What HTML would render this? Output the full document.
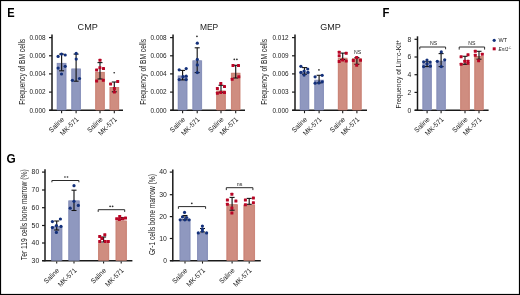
<!DOCTYPE html>
<html><head><meta charset="utf-8"><style>html,body{margin:0;padding:0;background:#fff;width:520px;height:295px;overflow:hidden}</style></head>
<body>
<svg width="520" height="295" viewBox="0 0 520 295" style="display:block;will-change:transform">
<rect x="0" y="0" width="520" height="295" fill="#ffffff"/>
<g font-family='"Liberation Sans", sans-serif'>
<text x="7.2" y="16.9" font-size="12.3" text-anchor="start" textLength="7.4" lengthAdjust="spacingAndGlyphs" font-weight="bold" fill="#000">E</text>
<text x="382.4" y="16.9" font-size="12.3" text-anchor="start" textLength="6.9" lengthAdjust="spacingAndGlyphs" font-weight="bold" fill="#000">F</text>
<text x="6.5" y="163.2" font-size="12.3" text-anchor="start" textLength="9.2" lengthAdjust="spacingAndGlyphs" font-weight="bold" fill="#000">G</text>
<text x="87.7" y="30.3" font-size="9.7" text-anchor="middle" textLength="20.2" lengthAdjust="spacingAndGlyphs" fill="#1a1a1a">CMP</text>
<text x="24.9" y="71.8" font-size="8.4" text-anchor="middle" textLength="66" lengthAdjust="spacingAndGlyphs" transform="rotate(-90 24.9 71.8)" fill="#1a1a1a">Frequency of BM cells</text>
<line x1="52.0" y1="34.6" x2="52.0" y2="110.75" stroke="#1a1a1a" stroke-width="1.5"/>
<line x1="49.2" y1="110.25" x2="123" y2="110.25" stroke="#1a1a1a" stroke-width="1.5"/>
<line x1="49.0" y1="37.6" x2="52.0" y2="37.6" stroke="#1a1a1a" stroke-width="1.2"/>
<text x="45.5" y="39.9" font-size="6.3" text-anchor="end" textLength="16" lengthAdjust="spacingAndGlyphs" fill="#1a1a1a">0.008</text>
<line x1="49.0" y1="55.8" x2="52.0" y2="55.8" stroke="#1a1a1a" stroke-width="1.2"/>
<text x="45.5" y="58.099999999999994" font-size="6.3" text-anchor="end" textLength="16" lengthAdjust="spacingAndGlyphs" fill="#1a1a1a">0.006</text>
<line x1="49.0" y1="73.9" x2="52.0" y2="73.9" stroke="#1a1a1a" stroke-width="1.2"/>
<text x="45.5" y="76.2" font-size="6.3" text-anchor="end" textLength="16" lengthAdjust="spacingAndGlyphs" fill="#1a1a1a">0.004</text>
<line x1="49.0" y1="92.1" x2="52.0" y2="92.1" stroke="#1a1a1a" stroke-width="1.2"/>
<text x="45.5" y="94.39999999999999" font-size="6.3" text-anchor="end" textLength="16" lengthAdjust="spacingAndGlyphs" fill="#1a1a1a">0.002</text>
<line x1="49.0" y1="110.25" x2="52.0" y2="110.25" stroke="#1a1a1a" stroke-width="1.2"/>
<text x="45.5" y="112.55" font-size="6.3" text-anchor="end" textLength="16" lengthAdjust="spacingAndGlyphs" fill="#1a1a1a">0.000</text>
<rect x="56.7" y="62.9" width="9.8" height="47.1" fill="#8f98bf"/>
<rect x="57.6" y="63.3" width="8.0" height="46.7" fill="none" stroke="#858eb8" stroke-width="0.6"/>
<line x1="61.6" y1="111" x2="61.6" y2="113.2" stroke="#1a1a1a" stroke-width="1.1"/>
<line x1="61.6" y1="54.1" x2="61.6" y2="70.8" stroke="#151515" stroke-width="1.15"/>
<line x1="59.1" y1="54.1" x2="64.1" y2="54.1" stroke="#151515" stroke-width="1.1"/>
<line x1="59.1" y1="70.8" x2="64.1" y2="70.8" stroke="#151515" stroke-width="1.1"/>
<circle cx="58.1" cy="56.4" r="1.6" fill="#13307a"/>
<circle cx="61.5" cy="54.1" r="1.6" fill="#13307a"/>
<circle cx="65.2" cy="55" r="1.6" fill="#13307a"/>
<circle cx="58.1" cy="68.1" r="1.6" fill="#13307a"/>
<circle cx="65.2" cy="66.3" r="1.6" fill="#13307a"/>
<circle cx="61.5" cy="74" r="1.6" fill="#13307a"/>
<rect x="71.19999999999999" y="68.6" width="9.8" height="41.400000000000006" fill="#8f98bf"/>
<rect x="72.1" y="69.0" width="8.0" height="41.00000000000001" fill="none" stroke="#858eb8" stroke-width="0.6"/>
<line x1="76.1" y1="111" x2="76.1" y2="113.2" stroke="#1a1a1a" stroke-width="1.1"/>
<line x1="76.1" y1="54.1" x2="76.1" y2="81.2" stroke="#151515" stroke-width="1.15"/>
<line x1="73.6" y1="54.1" x2="78.6" y2="54.1" stroke="#151515" stroke-width="1.1"/>
<line x1="73.6" y1="81.2" x2="78.6" y2="81.2" stroke="#151515" stroke-width="1.1"/>
<circle cx="76.2" cy="53.4" r="1.6" fill="#13307a"/>
<circle cx="76.2" cy="59.1" r="1.6" fill="#13307a"/>
<circle cx="72.4" cy="80.3" r="1.6" fill="#13307a"/>
<circle cx="79.5" cy="78.5" r="1.6" fill="#13307a"/>
<rect x="95.1" y="71.9" width="9.8" height="38.099999999999994" fill="#cf8d80"/>
<rect x="96.0" y="72.30000000000001" width="8.0" height="37.699999999999996" fill="none" stroke="#c98073" stroke-width="0.6"/>
<line x1="100.0" y1="111" x2="100.0" y2="113.2" stroke="#1a1a1a" stroke-width="1.1"/>
<line x1="100.0" y1="62.6" x2="100.0" y2="79.0" stroke="#151515" stroke-width="1.15"/>
<line x1="97.5" y1="62.6" x2="102.5" y2="62.6" stroke="#151515" stroke-width="1.1"/>
<line x1="97.5" y1="79.0" x2="102.5" y2="79.0" stroke="#151515" stroke-width="1.1"/>
<rect x="98.5" y="58.8" width="3.0" height="3.0" rx="0.5" fill="#b80525"/>
<rect x="95.1" y="68.5" width="3.0" height="3.0" rx="0.5" fill="#b80525"/>
<rect x="98.4" y="66.2" width="3.0" height="3.0" rx="0.5" fill="#b80525"/>
<rect x="102.0" y="67.0" width="3.0" height="3.0" rx="0.5" fill="#b80525"/>
<rect x="95.1" y="79.6" width="3.0" height="3.0" rx="0.5" fill="#b80525"/>
<rect x="101.8" y="78.7" width="3.0" height="3.0" rx="0.5" fill="#b80525"/>
<rect x="109.39999999999999" y="87.0" width="9.8" height="23.0" fill="#cf8d80"/>
<rect x="110.3" y="87.4" width="8.0" height="22.6" fill="none" stroke="#c98073" stroke-width="0.6"/>
<line x1="114.3" y1="111" x2="114.3" y2="113.2" stroke="#1a1a1a" stroke-width="1.1"/>
<line x1="114.3" y1="82.0" x2="114.3" y2="91.8" stroke="#151515" stroke-width="1.15"/>
<line x1="111.8" y1="82.0" x2="116.8" y2="82.0" stroke="#151515" stroke-width="1.1"/>
<line x1="111.8" y1="91.8" x2="116.8" y2="91.8" stroke="#151515" stroke-width="1.1"/>
<rect x="109.1" y="82.6" width="3.0" height="3.0" rx="0.5" fill="#b80525"/>
<rect x="116.2" y="79.9" width="3.0" height="3.0" rx="0.5" fill="#b80525"/>
<rect x="112.9" y="87.0" width="3.0" height="3.0" rx="0.5" fill="#b80525"/>
<rect x="112.9" y="90.5" width="3.0" height="3.0" rx="0.5" fill="#b80525"/>
<ellipse cx="114.2" cy="72.8" rx="0.9" ry="0.8" fill="#303030"/>
<text x="64.6" y="119.8" font-size="7.0" text-anchor="end" textLength="18.5" lengthAdjust="spacingAndGlyphs" transform="rotate(-45 64.6 119.8)" fill="#1a1a1a">Saline</text>
<text x="79.1" y="119.8" font-size="7.0" text-anchor="end" textLength="23" lengthAdjust="spacingAndGlyphs" transform="rotate(-45 79.1 119.8)" fill="#1a1a1a">MK-571</text>
<text x="103.0" y="119.8" font-size="7.0" text-anchor="end" textLength="18.5" lengthAdjust="spacingAndGlyphs" transform="rotate(-45 103.0 119.8)" fill="#1a1a1a">Saline</text>
<text x="117.3" y="119.8" font-size="7.0" text-anchor="end" textLength="23" lengthAdjust="spacingAndGlyphs" transform="rotate(-45 117.3 119.8)" fill="#1a1a1a">MK-571</text>
<text x="209.05" y="30.3" font-size="9.7" text-anchor="middle" textLength="18.3" lengthAdjust="spacingAndGlyphs" fill="#1a1a1a">MEP</text>
<text x="146.4" y="71.8" font-size="8.4" text-anchor="middle" textLength="66" lengthAdjust="spacingAndGlyphs" transform="rotate(-90 146.4 71.8)" fill="#1a1a1a">Frequency of BM cells</text>
<line x1="173.05" y1="34.6" x2="173.05" y2="110.75" stroke="#1a1a1a" stroke-width="1.5"/>
<line x1="170.25" y1="110.25" x2="245" y2="110.25" stroke="#1a1a1a" stroke-width="1.5"/>
<line x1="170.05" y1="37.6" x2="173.05" y2="37.6" stroke="#1a1a1a" stroke-width="1.2"/>
<text x="166.55" y="39.9" font-size="6.3" text-anchor="end" textLength="16" lengthAdjust="spacingAndGlyphs" fill="#1a1a1a">0.008</text>
<line x1="170.05" y1="55.8" x2="173.05" y2="55.8" stroke="#1a1a1a" stroke-width="1.2"/>
<text x="166.55" y="58.099999999999994" font-size="6.3" text-anchor="end" textLength="16" lengthAdjust="spacingAndGlyphs" fill="#1a1a1a">0.006</text>
<line x1="170.05" y1="73.9" x2="173.05" y2="73.9" stroke="#1a1a1a" stroke-width="1.2"/>
<text x="166.55" y="76.2" font-size="6.3" text-anchor="end" textLength="16" lengthAdjust="spacingAndGlyphs" fill="#1a1a1a">0.004</text>
<line x1="170.05" y1="92.1" x2="173.05" y2="92.1" stroke="#1a1a1a" stroke-width="1.2"/>
<text x="166.55" y="94.39999999999999" font-size="6.3" text-anchor="end" textLength="16" lengthAdjust="spacingAndGlyphs" fill="#1a1a1a">0.002</text>
<line x1="170.05" y1="110.25" x2="173.05" y2="110.25" stroke="#1a1a1a" stroke-width="1.2"/>
<text x="166.55" y="112.55" font-size="6.3" text-anchor="end" textLength="16" lengthAdjust="spacingAndGlyphs" fill="#1a1a1a">0.000</text>
<rect x="177.7" y="75.6" width="9.8" height="34.400000000000006" fill="#8f98bf"/>
<rect x="178.6" y="76.0" width="8.0" height="34.00000000000001" fill="none" stroke="#858eb8" stroke-width="0.6"/>
<line x1="182.6" y1="111" x2="182.6" y2="113.2" stroke="#1a1a1a" stroke-width="1.1"/>
<line x1="182.6" y1="70.4" x2="182.6" y2="79.9" stroke="#151515" stroke-width="1.15"/>
<line x1="180.1" y1="70.4" x2="185.1" y2="70.4" stroke="#151515" stroke-width="1.1"/>
<line x1="180.1" y1="79.9" x2="185.1" y2="79.9" stroke="#151515" stroke-width="1.1"/>
<circle cx="179.2" cy="69.8" r="1.6" fill="#13307a"/>
<circle cx="186.2" cy="68.6" r="1.6" fill="#13307a"/>
<circle cx="183" cy="76.7" r="1.6" fill="#13307a"/>
<circle cx="186.2" cy="76.2" r="1.6" fill="#13307a"/>
<circle cx="179.2" cy="79.6" r="1.6" fill="#13307a"/>
<circle cx="186.2" cy="79.6" r="1.6" fill="#13307a"/>
<rect x="192.29999999999998" y="60.4" width="9.8" height="49.6" fill="#8f98bf"/>
<rect x="193.2" y="60.8" width="8.0" height="49.2" fill="none" stroke="#858eb8" stroke-width="0.6"/>
<line x1="197.2" y1="111" x2="197.2" y2="113.2" stroke="#1a1a1a" stroke-width="1.1"/>
<line x1="197.2" y1="47.8" x2="197.2" y2="72.6" stroke="#151515" stroke-width="1.15"/>
<line x1="194.7" y1="47.8" x2="199.7" y2="47.8" stroke="#151515" stroke-width="1.1"/>
<line x1="194.7" y1="72.6" x2="199.7" y2="72.6" stroke="#151515" stroke-width="1.1"/>
<circle cx="197.3" cy="43.2" r="1.6" fill="#13307a"/>
<circle cx="197.3" cy="59.4" r="1.6" fill="#13307a"/>
<circle cx="197.3" cy="64.9" r="1.6" fill="#13307a"/>
<circle cx="197.3" cy="72.6" r="1.6" fill="#13307a"/>
<rect x="216.1" y="90.6" width="9.8" height="19.400000000000006" fill="#cf8d80"/>
<rect x="217.0" y="91.0" width="8.0" height="19.000000000000007" fill="none" stroke="#c98073" stroke-width="0.6"/>
<line x1="221.0" y1="111" x2="221.0" y2="113.2" stroke="#1a1a1a" stroke-width="1.1"/>
<line x1="221.0" y1="85.3" x2="221.0" y2="92.3" stroke="#151515" stroke-width="1.15"/>
<line x1="218.5" y1="85.3" x2="223.5" y2="85.3" stroke="#151515" stroke-width="1.1"/>
<line x1="218.5" y1="92.3" x2="223.5" y2="92.3" stroke="#151515" stroke-width="1.1"/>
<rect x="219.3" y="81.9" width="3.0" height="3.0" rx="0.5" fill="#b80525"/>
<rect x="223.0" y="85.0" width="3.0" height="3.0" rx="0.5" fill="#b80525"/>
<rect x="215.9" y="87.0" width="3.0" height="3.0" rx="0.5" fill="#b80525"/>
<rect x="215.9" y="91.8" width="3.0" height="3.0" rx="0.5" fill="#b80525"/>
<rect x="219.3" y="91.1" width="3.0" height="3.0" rx="0.5" fill="#b80525"/>
<rect x="223.0" y="91.1" width="3.0" height="3.0" rx="0.5" fill="#b80525"/>
<rect x="230.89999999999998" y="72.8" width="9.6" height="37.2" fill="#cf8d80"/>
<rect x="231.79999999999998" y="73.2" width="7.8" height="36.800000000000004" fill="none" stroke="#c98073" stroke-width="0.6"/>
<line x1="235.7" y1="111" x2="235.7" y2="113.2" stroke="#1a1a1a" stroke-width="1.1"/>
<line x1="235.7" y1="65.3" x2="235.7" y2="78.0" stroke="#151515" stroke-width="1.15"/>
<line x1="233.2" y1="65.3" x2="238.2" y2="65.3" stroke="#151515" stroke-width="1.1"/>
<line x1="233.2" y1="78.0" x2="238.2" y2="78.0" stroke="#151515" stroke-width="1.1"/>
<rect x="231.5" y="64.0" width="3.0" height="3.0" rx="0.5" fill="#b80525"/>
<rect x="237.0" y="64.0" width="3.0" height="3.0" rx="0.5" fill="#b80525"/>
<rect x="230.7" y="77.7" width="3.0" height="3.0" rx="0.5" fill="#b80525"/>
<rect x="237.3" y="75.2" width="3.0" height="3.0" rx="0.5" fill="#b80525"/>
<ellipse cx="196.95" cy="36.4" rx="0.9" ry="0.8" fill="#303030"/>
<ellipse cx="234.3" cy="59.4" rx="0.9" ry="0.8" fill="#303030"/>
<ellipse cx="236.9" cy="59.4" rx="0.9" ry="0.8" fill="#303030"/>
<text x="185.6" y="119.8" font-size="7.0" text-anchor="end" textLength="18.5" lengthAdjust="spacingAndGlyphs" transform="rotate(-45 185.6 119.8)" fill="#1a1a1a">Saline</text>
<text x="200.2" y="119.8" font-size="7.0" text-anchor="end" textLength="23" lengthAdjust="spacingAndGlyphs" transform="rotate(-45 200.2 119.8)" fill="#1a1a1a">MK-571</text>
<text x="224.0" y="119.8" font-size="7.0" text-anchor="end" textLength="18.5" lengthAdjust="spacingAndGlyphs" transform="rotate(-45 224.0 119.8)" fill="#1a1a1a">Saline</text>
<text x="238.7" y="119.8" font-size="7.0" text-anchor="end" textLength="23" lengthAdjust="spacingAndGlyphs" transform="rotate(-45 238.7 119.8)" fill="#1a1a1a">MK-571</text>
<text x="330.6" y="30.3" font-size="9.7" text-anchor="middle" textLength="20.6" lengthAdjust="spacingAndGlyphs" fill="#1a1a1a">GMP</text>
<text x="267.2" y="71.8" font-size="8.4" text-anchor="middle" textLength="66" lengthAdjust="spacingAndGlyphs" transform="rotate(-90 267.2 71.8)" fill="#1a1a1a">Frequency of BM cells</text>
<line x1="295.0" y1="34.6" x2="295.0" y2="110.75" stroke="#1a1a1a" stroke-width="1.5"/>
<line x1="292.2" y1="110.25" x2="367" y2="110.25" stroke="#1a1a1a" stroke-width="1.5"/>
<line x1="292.0" y1="37.6" x2="295.0" y2="37.6" stroke="#1a1a1a" stroke-width="1.2"/>
<text x="288.5" y="39.9" font-size="6.3" text-anchor="end" textLength="16" lengthAdjust="spacingAndGlyphs" fill="#1a1a1a">0.012</text>
<line x1="292.0" y1="55.8" x2="295.0" y2="55.8" stroke="#1a1a1a" stroke-width="1.2"/>
<text x="288.5" y="58.099999999999994" font-size="6.3" text-anchor="end" textLength="16" lengthAdjust="spacingAndGlyphs" fill="#1a1a1a">0.009</text>
<line x1="292.0" y1="73.9" x2="295.0" y2="73.9" stroke="#1a1a1a" stroke-width="1.2"/>
<text x="288.5" y="76.2" font-size="6.3" text-anchor="end" textLength="16" lengthAdjust="spacingAndGlyphs" fill="#1a1a1a">0.006</text>
<line x1="292.0" y1="92.1" x2="295.0" y2="92.1" stroke="#1a1a1a" stroke-width="1.2"/>
<text x="288.5" y="94.39999999999999" font-size="6.3" text-anchor="end" textLength="16" lengthAdjust="spacingAndGlyphs" fill="#1a1a1a">0.003</text>
<line x1="292.0" y1="110.25" x2="295.0" y2="110.25" stroke="#1a1a1a" stroke-width="1.2"/>
<text x="288.5" y="112.55" font-size="6.3" text-anchor="end" textLength="16" lengthAdjust="spacingAndGlyphs" fill="#1a1a1a">0.000</text>
<rect x="299.7" y="71.7" width="9.6" height="38.3" fill="#8f98bf"/>
<rect x="300.59999999999997" y="72.10000000000001" width="7.8" height="37.9" fill="none" stroke="#858eb8" stroke-width="0.6"/>
<line x1="304.5" y1="111" x2="304.5" y2="113.2" stroke="#1a1a1a" stroke-width="1.1"/>
<line x1="304.5" y1="67.6" x2="304.5" y2="74.2" stroke="#151515" stroke-width="1.15"/>
<line x1="302.0" y1="67.6" x2="307.0" y2="67.6" stroke="#151515" stroke-width="1.1"/>
<line x1="302.0" y1="74.2" x2="307.0" y2="74.2" stroke="#151515" stroke-width="1.1"/>
<circle cx="300.9" cy="66.3" r="1.6" fill="#13307a"/>
<circle cx="307.7" cy="69" r="1.6" fill="#13307a"/>
<circle cx="304.1" cy="71" r="1.6" fill="#13307a"/>
<circle cx="300.9" cy="72.4" r="1.6" fill="#13307a"/>
<circle cx="308" cy="72.4" r="1.6" fill="#13307a"/>
<circle cx="304.1" cy="75.1" r="1.6" fill="#13307a"/>
<rect x="314.20000000000005" y="79.8" width="9.8" height="30.200000000000003" fill="#8f98bf"/>
<rect x="315.1" y="80.2" width="8.0" height="29.800000000000004" fill="none" stroke="#858eb8" stroke-width="0.6"/>
<line x1="319.1" y1="111" x2="319.1" y2="113.2" stroke="#1a1a1a" stroke-width="1.1"/>
<line x1="319.1" y1="75.3" x2="319.1" y2="82.9" stroke="#151515" stroke-width="1.15"/>
<line x1="316.6" y1="75.3" x2="321.6" y2="75.3" stroke="#151515" stroke-width="1.1"/>
<line x1="316.6" y1="82.9" x2="321.6" y2="82.9" stroke="#151515" stroke-width="1.1"/>
<circle cx="315.1" cy="76.8" r="1.6" fill="#13307a"/>
<circle cx="322.2" cy="75.3" r="1.6" fill="#13307a"/>
<circle cx="315.1" cy="83.2" r="1.6" fill="#13307a"/>
<circle cx="322.2" cy="81.8" r="1.6" fill="#13307a"/>
<circle cx="318.9" cy="82.9" r="1.6" fill="#13307a"/>
<rect x="337.8" y="57.8" width="9.8" height="52.2" fill="#cf8d80"/>
<rect x="338.7" y="58.199999999999996" width="8.0" height="51.800000000000004" fill="none" stroke="#c98073" stroke-width="0.6"/>
<line x1="342.7" y1="111" x2="342.7" y2="113.2" stroke="#1a1a1a" stroke-width="1.1"/>
<line x1="342.7" y1="53.1" x2="342.7" y2="59.5" stroke="#151515" stroke-width="1.15"/>
<line x1="340.2" y1="53.1" x2="345.2" y2="53.1" stroke="#151515" stroke-width="1.1"/>
<line x1="340.2" y1="59.5" x2="345.2" y2="59.5" stroke="#151515" stroke-width="1.1"/>
<rect x="337.7" y="50.7" width="3.0" height="3.0" rx="0.5" fill="#b80525"/>
<rect x="337.7" y="54.3" width="3.0" height="3.0" rx="0.5" fill="#b80525"/>
<rect x="344.7" y="51.8" width="3.0" height="3.0" rx="0.5" fill="#b80525"/>
<rect x="337.7" y="60.1" width="3.0" height="3.0" rx="0.5" fill="#b80525"/>
<rect x="341.1" y="58.4" width="3.0" height="3.0" rx="0.5" fill="#b80525"/>
<rect x="344.7" y="59.5" width="3.0" height="3.0" rx="0.5" fill="#b80525"/>
<rect x="352.0" y="58.2" width="9.8" height="51.8" fill="#cf8d80"/>
<rect x="352.9" y="58.6" width="8.0" height="51.4" fill="none" stroke="#c98073" stroke-width="0.6"/>
<line x1="356.9" y1="111" x2="356.9" y2="113.2" stroke="#1a1a1a" stroke-width="1.1"/>
<line x1="356.9" y1="57.6" x2="356.9" y2="64.3" stroke="#151515" stroke-width="1.15"/>
<line x1="354.4" y1="57.6" x2="359.4" y2="57.6" stroke="#151515" stroke-width="1.1"/>
<line x1="354.4" y1="64.3" x2="359.4" y2="64.3" stroke="#151515" stroke-width="1.1"/>
<rect x="355.2" y="56.1" width="3.0" height="3.0" rx="0.5" fill="#b80525"/>
<rect x="351.8" y="59.1" width="3.0" height="3.0" rx="0.5" fill="#b80525"/>
<rect x="359.0" y="58.7" width="3.0" height="3.0" rx="0.5" fill="#b80525"/>
<rect x="355.2" y="63.8" width="3.0" height="3.0" rx="0.5" fill="#b80525"/>
<ellipse cx="318.95" cy="69.9" rx="0.9" ry="0.8" fill="#303030"/>
<text x="357.55" y="53.7" font-size="5.2" text-anchor="middle" textLength="7.2" lengthAdjust="spacingAndGlyphs" fill="#1a1a1a">NS</text>
<text x="307.5" y="119.8" font-size="7.0" text-anchor="end" textLength="18.5" lengthAdjust="spacingAndGlyphs" transform="rotate(-45 307.5 119.8)" fill="#1a1a1a">Saline</text>
<text x="322.1" y="119.8" font-size="7.0" text-anchor="end" textLength="23" lengthAdjust="spacingAndGlyphs" transform="rotate(-45 322.1 119.8)" fill="#1a1a1a">MK-571</text>
<text x="345.7" y="119.8" font-size="7.0" text-anchor="end" textLength="18.5" lengthAdjust="spacingAndGlyphs" transform="rotate(-45 345.7 119.8)" fill="#1a1a1a">Saline</text>
<text x="359.9" y="119.8" font-size="7.0" text-anchor="end" textLength="23" lengthAdjust="spacingAndGlyphs" transform="rotate(-45 359.9 119.8)" fill="#1a1a1a">MK-571</text>
<text x="401.5" y="74.2" font-size="7.8" text-anchor="middle" textLength="68.5" lengthAdjust="spacingAndGlyphs" transform="rotate(-90 401.5 74.2)" fill="#1a1a1a">Frequency of Lin<tspan dy="-2.6" font-size="5">−</tspan><tspan dy="2.6">c-Kit</tspan><tspan dy="-2.6" font-size="5">+</tspan></text>
<line x1="417.5" y1="36.3" x2="417.5" y2="110.75" stroke="#1a1a1a" stroke-width="1.5"/>
<line x1="414.7" y1="110.25" x2="488.6" y2="110.25" stroke="#1a1a1a" stroke-width="1.5"/>
<line x1="414.5" y1="39.3" x2="417.5" y2="39.3" stroke="#1a1a1a" stroke-width="1.2"/>
<text x="411.2" y="41.599999999999994" font-size="6.8" text-anchor="end" fill="#1a1a1a">8</text>
<line x1="414.5" y1="57.0" x2="417.5" y2="57.0" stroke="#1a1a1a" stroke-width="1.2"/>
<text x="411.2" y="59.3" font-size="6.8" text-anchor="end" fill="#1a1a1a">6</text>
<line x1="414.5" y1="74.7" x2="417.5" y2="74.7" stroke="#1a1a1a" stroke-width="1.2"/>
<text x="411.2" y="77.0" font-size="6.8" text-anchor="end" fill="#1a1a1a">4</text>
<line x1="414.5" y1="92.4" x2="417.5" y2="92.4" stroke="#1a1a1a" stroke-width="1.2"/>
<text x="411.2" y="94.7" font-size="6.8" text-anchor="end" fill="#1a1a1a">2</text>
<line x1="414.5" y1="110.25" x2="417.5" y2="110.25" stroke="#1a1a1a" stroke-width="1.2"/>
<text x="411.2" y="112.55" font-size="6.8" text-anchor="end" fill="#1a1a1a">0</text>
<rect x="422.3" y="63.3" width="9.6" height="46.7" fill="#8f98bf"/>
<rect x="423.2" y="63.699999999999996" width="7.8" height="46.300000000000004" fill="none" stroke="#858eb8" stroke-width="0.6"/>
<line x1="427.1" y1="111" x2="427.1" y2="113.2" stroke="#1a1a1a" stroke-width="1.1"/>
<line x1="427.1" y1="61.8" x2="427.1" y2="66.6" stroke="#151515" stroke-width="1.15"/>
<line x1="424.6" y1="61.8" x2="429.6" y2="61.8" stroke="#151515" stroke-width="1.1"/>
<line x1="424.6" y1="66.6" x2="429.6" y2="66.6" stroke="#151515" stroke-width="1.1"/>
<circle cx="427" cy="60.1" r="1.6" fill="#13307a"/>
<circle cx="423.6" cy="61.8" r="1.6" fill="#13307a"/>
<circle cx="430.2" cy="62.1" r="1.6" fill="#13307a"/>
<circle cx="427" cy="63.8" r="1.6" fill="#13307a"/>
<circle cx="423.6" cy="66.6" r="1.6" fill="#13307a"/>
<circle cx="430.4" cy="66.2" r="1.6" fill="#13307a"/>
<rect x="436.3" y="60.8" width="9.6" height="49.2" fill="#8f98bf"/>
<rect x="437.2" y="61.199999999999996" width="7.8" height="48.800000000000004" fill="none" stroke="#858eb8" stroke-width="0.6"/>
<line x1="441.1" y1="111" x2="441.1" y2="113.2" stroke="#1a1a1a" stroke-width="1.1"/>
<line x1="441.1" y1="53.6" x2="441.1" y2="66.6" stroke="#151515" stroke-width="1.15"/>
<line x1="438.6" y1="53.6" x2="443.6" y2="53.6" stroke="#151515" stroke-width="1.1"/>
<line x1="438.6" y1="66.6" x2="443.6" y2="66.6" stroke="#151515" stroke-width="1.1"/>
<circle cx="441.3" cy="51.9" r="1.6" fill="#13307a"/>
<circle cx="437.3" cy="61.3" r="1.6" fill="#13307a"/>
<circle cx="444.7" cy="59.8" r="1.6" fill="#13307a"/>
<circle cx="441.3" cy="66.6" r="1.6" fill="#13307a"/>
<rect x="460.1" y="63.5" width="9.8" height="46.5" fill="#cf8d80"/>
<rect x="461.0" y="63.9" width="8.0" height="46.1" fill="none" stroke="#c98073" stroke-width="0.6"/>
<line x1="465.0" y1="111" x2="465.0" y2="113.2" stroke="#1a1a1a" stroke-width="1.1"/>
<line x1="465.0" y1="56.3" x2="465.0" y2="64.3" stroke="#151515" stroke-width="1.15"/>
<line x1="462.5" y1="56.3" x2="467.5" y2="56.3" stroke="#151515" stroke-width="1.1"/>
<line x1="462.5" y1="64.3" x2="467.5" y2="64.3" stroke="#151515" stroke-width="1.1"/>
<rect x="459.6" y="55.2" width="3.0" height="3.0" rx="0.5" fill="#b80525"/>
<rect x="466.5" y="53.2" width="3.0" height="3.0" rx="0.5" fill="#b80525"/>
<rect x="463.2" y="59.8" width="3.0" height="3.0" rx="0.5" fill="#b80525"/>
<rect x="459.6" y="62.8" width="3.0" height="3.0" rx="0.5" fill="#b80525"/>
<rect x="466.5" y="59.8" width="3.0" height="3.0" rx="0.5" fill="#b80525"/>
<rect x="466.5" y="61.8" width="3.0" height="3.0" rx="0.5" fill="#b80525"/>
<rect x="474.2" y="56.0" width="9.6" height="54.0" fill="#cf8d80"/>
<rect x="475.09999999999997" y="56.4" width="7.8" height="53.6" fill="none" stroke="#c98073" stroke-width="0.6"/>
<line x1="479.0" y1="111" x2="479.0" y2="113.2" stroke="#1a1a1a" stroke-width="1.1"/>
<line x1="479.0" y1="51.3" x2="479.0" y2="59.2" stroke="#151515" stroke-width="1.15"/>
<line x1="476.5" y1="51.3" x2="481.5" y2="51.3" stroke="#151515" stroke-width="1.1"/>
<line x1="476.5" y1="59.2" x2="481.5" y2="59.2" stroke="#151515" stroke-width="1.1"/>
<rect x="473.8" y="49.8" width="3.0" height="3.0" rx="0.5" fill="#b80525"/>
<rect x="473.8" y="53.7" width="3.0" height="3.0" rx="0.5" fill="#b80525"/>
<rect x="480.8" y="52.7" width="3.0" height="3.0" rx="0.5" fill="#b80525"/>
<rect x="477.1" y="59.3" width="3.0" height="3.0" rx="0.5" fill="#b80525"/>
<polyline points="419.8,49.3 419.8,47.0 445.6,47.0 445.6,49.3" fill="none" stroke="#2a2a2a" stroke-width="1"/>
<text x="433.65" y="44.8" font-size="5.2" text-anchor="middle" textLength="7.2" lengthAdjust="spacingAndGlyphs" fill="#1a1a1a">NS</text>
<polyline points="459.2,49.6 459.2,47.0 484.6,47.0 484.6,49.6" fill="none" stroke="#2a2a2a" stroke-width="1"/>
<text x="471.75" y="44.8" font-size="5.2" text-anchor="middle" textLength="7.2" lengthAdjust="spacingAndGlyphs" fill="#1a1a1a">NS</text>
<circle cx="494.2" cy="40.3" r="1.6" fill="#13307a"/>
<rect x="492.7" y="47.3" width="3" height="3" fill="#b80525"/>
<text x="498.5" y="42.1" font-size="5.8" text-anchor="start" textLength="8.6" lengthAdjust="spacingAndGlyphs" fill="#1a1a1a">WT</text>
<text x="498.6" y="51.0" font-size="5.6" text-anchor="start" textLength="12.5" lengthAdjust="spacingAndGlyphs" font-style="italic" fill="#1a1a1a">Ent1<tspan dy="-2.5" font-size="3.4">-/-</tspan></text>
<text x="430.1" y="119.8" font-size="7.0" text-anchor="end" textLength="18.5" lengthAdjust="spacingAndGlyphs" transform="rotate(-45 430.1 119.8)" fill="#1a1a1a">Saline</text>
<text x="444.1" y="119.8" font-size="7.0" text-anchor="end" textLength="23" lengthAdjust="spacingAndGlyphs" transform="rotate(-45 444.1 119.8)" fill="#1a1a1a">MK-571</text>
<text x="468.0" y="119.8" font-size="7.0" text-anchor="end" textLength="18.5" lengthAdjust="spacingAndGlyphs" transform="rotate(-45 468.0 119.8)" fill="#1a1a1a">Saline</text>
<text x="482.0" y="119.8" font-size="7.0" text-anchor="end" textLength="23" lengthAdjust="spacingAndGlyphs" transform="rotate(-45 482.0 119.8)" fill="#1a1a1a">MK-571</text>
<text x="26.6" y="214.7" font-size="8.6" text-anchor="middle" textLength="91" lengthAdjust="spacingAndGlyphs" transform="rotate(-90 26.6 214.7)" fill="#1a1a1a">Ter 119 cells bone marrow (%)</text>
<line x1="45.0" y1="169.2" x2="45.0" y2="261.15" stroke="#1a1a1a" stroke-width="1.5"/>
<line x1="42.2" y1="260.65" x2="132.4" y2="260.65" stroke="#1a1a1a" stroke-width="1.5"/>
<line x1="42.0" y1="172.1" x2="45.0" y2="172.1" stroke="#1a1a1a" stroke-width="1.2"/>
<text x="39.2" y="174.4" font-size="6.6" text-anchor="end" textLength="7.6" lengthAdjust="spacingAndGlyphs" fill="#1a1a1a">80</text>
<line x1="42.0" y1="190.0" x2="45.0" y2="190.0" stroke="#1a1a1a" stroke-width="1.2"/>
<text x="39.2" y="192.3" font-size="6.6" text-anchor="end" textLength="7.6" lengthAdjust="spacingAndGlyphs" fill="#1a1a1a">70</text>
<line x1="42.0" y1="207.7" x2="45.0" y2="207.7" stroke="#1a1a1a" stroke-width="1.2"/>
<text x="39.2" y="210.0" font-size="6.6" text-anchor="end" textLength="7.6" lengthAdjust="spacingAndGlyphs" fill="#1a1a1a">60</text>
<line x1="42.0" y1="225.5" x2="45.0" y2="225.5" stroke="#1a1a1a" stroke-width="1.2"/>
<text x="39.2" y="227.8" font-size="6.6" text-anchor="end" textLength="7.6" lengthAdjust="spacingAndGlyphs" fill="#1a1a1a">50</text>
<line x1="42.0" y1="243.0" x2="45.0" y2="243.0" stroke="#1a1a1a" stroke-width="1.2"/>
<text x="39.2" y="245.3" font-size="6.6" text-anchor="end" textLength="7.6" lengthAdjust="spacingAndGlyphs" fill="#1a1a1a">40</text>
<line x1="42.0" y1="260.6" x2="45.0" y2="260.6" stroke="#1a1a1a" stroke-width="1.2"/>
<text x="39.2" y="262.90000000000003" font-size="6.6" text-anchor="end" textLength="7.6" lengthAdjust="spacingAndGlyphs" fill="#1a1a1a">30</text>
<rect x="51.0" y="226.0" width="11.4" height="34.39999999999998" fill="#8f98bf"/>
<rect x="51.9" y="226.4" width="9.6" height="33.99999999999998" fill="none" stroke="#858eb8" stroke-width="0.6"/>
<line x1="56.7" y1="261.4" x2="56.7" y2="263.59999999999997" stroke="#1a1a1a" stroke-width="1.1"/>
<line x1="56.7" y1="221.0" x2="56.7" y2="230.0" stroke="#151515" stroke-width="1.15"/>
<line x1="54.2" y1="221.0" x2="59.2" y2="221.0" stroke="#151515" stroke-width="1.1"/>
<line x1="54.2" y1="230.0" x2="59.2" y2="230.0" stroke="#151515" stroke-width="1.1"/>
<circle cx="52.4" cy="221.6" r="1.6" fill="#13307a"/>
<circle cx="60.4" cy="219" r="1.6" fill="#13307a"/>
<circle cx="52.4" cy="227.6" r="1.6" fill="#13307a"/>
<circle cx="56.4" cy="225.6" r="1.6" fill="#13307a"/>
<circle cx="61" cy="226.4" r="1.6" fill="#13307a"/>
<circle cx="56.4" cy="232.4" r="1.6" fill="#13307a"/>
<rect x="68.2" y="200.5" width="11.6" height="59.89999999999998" fill="#8f98bf"/>
<rect x="69.10000000000001" y="200.9" width="9.799999999999999" height="59.49999999999998" fill="none" stroke="#858eb8" stroke-width="0.6"/>
<line x1="74.0" y1="261.4" x2="74.0" y2="263.59999999999997" stroke="#1a1a1a" stroke-width="1.1"/>
<line x1="74.0" y1="190.2" x2="74.0" y2="210.5" stroke="#151515" stroke-width="1.15"/>
<line x1="71.5" y1="190.2" x2="76.5" y2="190.2" stroke="#151515" stroke-width="1.1"/>
<line x1="71.5" y1="210.5" x2="76.5" y2="210.5" stroke="#151515" stroke-width="1.1"/>
<circle cx="74" cy="185.7" r="1.6" fill="#13307a"/>
<circle cx="74" cy="201.3" r="1.6" fill="#13307a"/>
<circle cx="78.3" cy="205.4" r="1.6" fill="#13307a"/>
<circle cx="70.2" cy="208.2" r="1.6" fill="#13307a"/>
<rect x="98.0" y="243.2" width="11.2" height="17.19999999999999" fill="#cf8d80"/>
<rect x="98.9" y="243.6" width="9.399999999999999" height="16.79999999999999" fill="none" stroke="#c98073" stroke-width="0.6"/>
<line x1="103.6" y1="261.4" x2="103.6" y2="263.59999999999997" stroke="#1a1a1a" stroke-width="1.1"/>
<line x1="103.6" y1="237.0" x2="103.6" y2="242.0" stroke="#151515" stroke-width="1.15"/>
<line x1="101.1" y1="237.0" x2="106.1" y2="237.0" stroke="#151515" stroke-width="1.1"/>
<line x1="101.1" y1="242.0" x2="106.1" y2="242.0" stroke="#151515" stroke-width="1.1"/>
<rect x="98.2" y="235.0" width="3.0" height="3.0" rx="0.5" fill="#b80525"/>
<rect x="103.3" y="233.2" width="3.0" height="3.0" rx="0.5" fill="#b80525"/>
<rect x="100.3" y="237.0" width="3.0" height="3.0" rx="0.5" fill="#b80525"/>
<rect x="98.2" y="240.0" width="3.0" height="3.0" rx="0.5" fill="#b80525"/>
<rect x="103.7" y="240.0" width="3.0" height="3.0" rx="0.5" fill="#b80525"/>
<rect x="106.8" y="240.0" width="3.0" height="3.0" rx="0.5" fill="#b80525"/>
<rect x="115.45" y="220.6" width="11.5" height="39.79999999999998" fill="#cf8d80"/>
<rect x="116.35000000000001" y="221.0" width="9.7" height="39.399999999999984" fill="none" stroke="#c98073" stroke-width="0.6"/>
<line x1="121.2" y1="261.4" x2="121.2" y2="263.59999999999997" stroke="#1a1a1a" stroke-width="1.1"/>
<line x1="121.2" y1="217.5" x2="121.2" y2="219.5" stroke="#151515" stroke-width="1.15"/>
<line x1="118.7" y1="217.5" x2="123.7" y2="217.5" stroke="#151515" stroke-width="1.1"/>
<line x1="118.7" y1="219.5" x2="123.7" y2="219.5" stroke="#151515" stroke-width="1.1"/>
<rect x="115.2" y="217.3" width="3.0" height="3.0" rx="0.5" fill="#b80525"/>
<rect x="118.2" y="215.0" width="3.0" height="3.0" rx="0.5" fill="#b80525"/>
<rect x="121.3" y="217.3" width="3.0" height="3.0" rx="0.5" fill="#b80525"/>
<rect x="124.0" y="216.4" width="3.0" height="3.0" rx="0.5" fill="#b80525"/>
<rect x="117.9" y="218.0" width="3.0" height="3.0" rx="0.5" fill="#b80525"/>
<polyline points="51.9,182.3 51.9,180.5 78.9,180.5 78.9,182.3" fill="none" stroke="#2a2a2a" stroke-width="1"/>
<ellipse cx="64.95" cy="177.0" rx="0.9" ry="0.8" fill="#303030"/>
<ellipse cx="67.5" cy="177.0" rx="0.9" ry="0.8" fill="#303030"/>
<polyline points="98.2,211.89999999999998 98.2,209.7 124.7,209.7 124.7,211.89999999999998" fill="none" stroke="#2a2a2a" stroke-width="1"/>
<ellipse cx="110.1" cy="206.4" rx="0.9" ry="0.8" fill="#303030"/>
<ellipse cx="112.6" cy="206.4" rx="0.9" ry="0.8" fill="#303030"/>
<text x="59.7" y="270.95" font-size="7.0" text-anchor="end" textLength="18.5" lengthAdjust="spacingAndGlyphs" transform="rotate(-45 59.7 270.95)" fill="#1a1a1a">Saline</text>
<text x="77.0" y="270.95" font-size="7.0" text-anchor="end" textLength="23" lengthAdjust="spacingAndGlyphs" transform="rotate(-45 77.0 270.95)" fill="#1a1a1a">MK-571</text>
<text x="106.6" y="270.95" font-size="7.0" text-anchor="end" textLength="18.5" lengthAdjust="spacingAndGlyphs" transform="rotate(-45 106.6 270.95)" fill="#1a1a1a">Saline</text>
<text x="124.2" y="270.95" font-size="7.0" text-anchor="end" textLength="23" lengthAdjust="spacingAndGlyphs" transform="rotate(-45 124.2 270.95)" fill="#1a1a1a">MK-571</text>
<text x="154.7" y="214.6" font-size="8.6" text-anchor="middle" textLength="81" lengthAdjust="spacingAndGlyphs" transform="rotate(-90 154.7 214.6)" fill="#1a1a1a">Gr-1 cells bone marrow (%)</text>
<line x1="172.8" y1="169.5" x2="172.8" y2="261.15" stroke="#1a1a1a" stroke-width="1.5"/>
<line x1="170.0" y1="260.65" x2="260.8" y2="260.65" stroke="#1a1a1a" stroke-width="1.5"/>
<line x1="169.8" y1="172.1" x2="172.8" y2="172.1" stroke="#1a1a1a" stroke-width="1.2"/>
<text x="166.9" y="174.4" font-size="6.6" text-anchor="end" textLength="7.6" lengthAdjust="spacingAndGlyphs" fill="#1a1a1a">40</text>
<line x1="169.8" y1="194.7" x2="172.8" y2="194.7" stroke="#1a1a1a" stroke-width="1.2"/>
<text x="166.9" y="197.0" font-size="6.6" text-anchor="end" textLength="7.6" lengthAdjust="spacingAndGlyphs" fill="#1a1a1a">30</text>
<line x1="169.8" y1="216.6" x2="172.8" y2="216.6" stroke="#1a1a1a" stroke-width="1.2"/>
<text x="166.9" y="218.9" font-size="6.6" text-anchor="end" textLength="7.6" lengthAdjust="spacingAndGlyphs" fill="#1a1a1a">20</text>
<line x1="169.8" y1="238.5" x2="172.8" y2="238.5" stroke="#1a1a1a" stroke-width="1.2"/>
<text x="166.9" y="240.8" font-size="6.6" text-anchor="end" textLength="7.6" lengthAdjust="spacingAndGlyphs" fill="#1a1a1a">10</text>
<line x1="169.8" y1="260.6" x2="172.8" y2="260.6" stroke="#1a1a1a" stroke-width="1.2"/>
<text x="166.9" y="262.90000000000003" font-size="6.6" text-anchor="end" fill="#1a1a1a">0</text>
<rect x="179.4" y="219.2" width="11.2" height="41.19999999999999" fill="#8f98bf"/>
<rect x="180.3" y="219.6" width="9.399999999999999" height="40.79999999999999" fill="none" stroke="#858eb8" stroke-width="0.6"/>
<line x1="185.0" y1="261.4" x2="185.0" y2="263.59999999999997" stroke="#1a1a1a" stroke-width="1.1"/>
<line x1="185.0" y1="215.5" x2="185.0" y2="219.8" stroke="#151515" stroke-width="1.15"/>
<line x1="182.5" y1="215.5" x2="187.5" y2="215.5" stroke="#151515" stroke-width="1.1"/>
<line x1="182.5" y1="219.8" x2="187.5" y2="219.8" stroke="#151515" stroke-width="1.1"/>
<circle cx="184.55" cy="212.4" r="1.6" fill="#13307a"/>
<circle cx="182.5" cy="216.9" r="1.6" fill="#13307a"/>
<circle cx="186.7" cy="217.5" r="1.6" fill="#13307a"/>
<circle cx="180.2" cy="219.8" r="1.6" fill="#13307a"/>
<circle cx="184.9" cy="219.8" r="1.6" fill="#13307a"/>
<circle cx="189.1" cy="219.8" r="1.6" fill="#13307a"/>
<rect x="197.0" y="232.9" width="11.0" height="27.49999999999997" fill="#8f98bf"/>
<rect x="197.9" y="233.3" width="9.2" height="27.099999999999973" fill="none" stroke="#858eb8" stroke-width="0.6"/>
<line x1="202.5" y1="261.4" x2="202.5" y2="263.59999999999997" stroke="#1a1a1a" stroke-width="1.1"/>
<line x1="202.5" y1="228.5" x2="202.5" y2="232.0" stroke="#151515" stroke-width="1.15"/>
<line x1="200.0" y1="228.5" x2="205.0" y2="228.5" stroke="#151515" stroke-width="1.1"/>
<line x1="200.0" y1="232.0" x2="205.0" y2="232.0" stroke="#151515" stroke-width="1.1"/>
<circle cx="202.4" cy="226.1" r="1.6" fill="#13307a"/>
<circle cx="202.4" cy="229.0" r="1.6" fill="#13307a"/>
<circle cx="198.3" cy="232.9" r="1.6" fill="#13307a"/>
<circle cx="206.6" cy="232.9" r="1.6" fill="#13307a"/>
<circle cx="202.4" cy="231.2" r="1.6" fill="#13307a"/>
<rect x="226.29999999999998" y="204.3" width="11.6" height="56.099999999999966" fill="#cf8d80"/>
<rect x="227.2" y="204.70000000000002" width="9.799999999999999" height="55.69999999999997" fill="none" stroke="#c98073" stroke-width="0.6"/>
<line x1="232.1" y1="261.4" x2="232.1" y2="263.59999999999997" stroke="#1a1a1a" stroke-width="1.1"/>
<line x1="232.1" y1="197.4" x2="232.1" y2="210.2" stroke="#151515" stroke-width="1.15"/>
<line x1="229.6" y1="197.4" x2="234.6" y2="197.4" stroke="#151515" stroke-width="1.1"/>
<line x1="229.6" y1="210.2" x2="234.6" y2="210.2" stroke="#151515" stroke-width="1.1"/>
<rect x="230.4" y="192.7" width="3.0" height="3.0" rx="0.5" fill="#b80525"/>
<rect x="225.9" y="198.5" width="3.0" height="3.0" rx="0.5" fill="#b80525"/>
<rect x="234.4" y="199.5" width="3.0" height="3.0" rx="0.5" fill="#b80525"/>
<rect x="225.9" y="202.8" width="3.0" height="3.0" rx="0.5" fill="#b80525"/>
<rect x="230.4" y="206.5" width="3.0" height="3.0" rx="0.5" fill="#b80525"/>
<rect x="230.4" y="211.5" width="3.0" height="3.0" rx="0.5" fill="#b80525"/>
<rect x="243.35" y="204.7" width="11.7" height="55.69999999999999" fill="#cf8d80"/>
<rect x="244.25" y="205.1" width="9.899999999999999" height="55.29999999999999" fill="none" stroke="#c98073" stroke-width="0.6"/>
<line x1="249.2" y1="261.4" x2="249.2" y2="263.59999999999997" stroke="#1a1a1a" stroke-width="1.1"/>
<line x1="249.2" y1="198.4" x2="249.2" y2="204.3" stroke="#151515" stroke-width="1.15"/>
<line x1="246.7" y1="198.4" x2="251.7" y2="198.4" stroke="#151515" stroke-width="1.1"/>
<line x1="246.7" y1="204.3" x2="251.7" y2="204.3" stroke="#151515" stroke-width="1.1"/>
<rect x="251.9" y="196.4" width="3.0" height="3.0" rx="0.5" fill="#b80525"/>
<rect x="243.9" y="198.5" width="3.0" height="3.0" rx="0.5" fill="#b80525"/>
<rect x="243.9" y="203.2" width="3.0" height="3.0" rx="0.5" fill="#b80525"/>
<rect x="251.9" y="201.2" width="3.0" height="3.0" rx="0.5" fill="#b80525"/>
<polyline points="178.4,208.79999999999998 178.4,206.6 205.6,206.6 205.6,208.79999999999998" fill="none" stroke="#2a2a2a" stroke-width="1"/>
<ellipse cx="191.8" cy="203.4" rx="0.9" ry="0.8" fill="#303030"/>
<polyline points="226.3,190.1 226.3,187.7 252.9,187.7 252.9,190.1" fill="none" stroke="#2a2a2a" stroke-width="1"/>
<text x="239.55" y="186.0" font-size="5.6" text-anchor="middle" textLength="5.6" lengthAdjust="spacingAndGlyphs" fill="#1a1a1a">ns</text>
<text x="188.0" y="270.95" font-size="7.0" text-anchor="end" textLength="18.5" lengthAdjust="spacingAndGlyphs" transform="rotate(-45 188.0 270.95)" fill="#1a1a1a">Saline</text>
<text x="205.5" y="270.95" font-size="7.0" text-anchor="end" textLength="23" lengthAdjust="spacingAndGlyphs" transform="rotate(-45 205.5 270.95)" fill="#1a1a1a">MK-571</text>
<text x="235.1" y="270.95" font-size="7.0" text-anchor="end" textLength="18.5" lengthAdjust="spacingAndGlyphs" transform="rotate(-45 235.1 270.95)" fill="#1a1a1a">Saline</text>
<text x="252.2" y="270.95" font-size="7.0" text-anchor="end" textLength="23" lengthAdjust="spacingAndGlyphs" transform="rotate(-45 252.2 270.95)" fill="#1a1a1a">MK-571</text>
</g>
<rect x="0.5" y="0.5" width="519" height="294" fill="none" stroke="#000" stroke-width="1.2"/>
</svg>
</body></html>
